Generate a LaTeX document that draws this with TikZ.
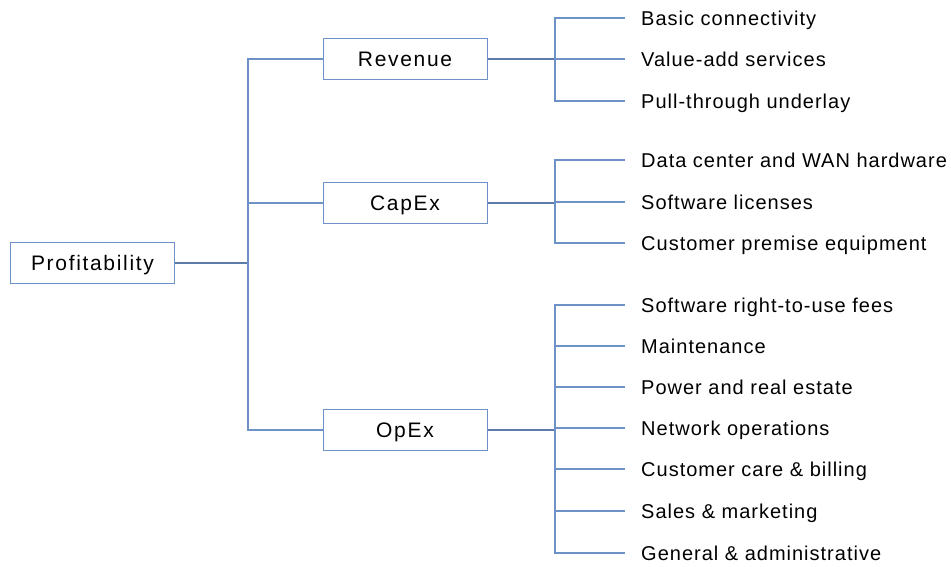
\documentclass[tikz,border=0pt]{standalone}
\usepackage{fontspec}
\setmainfont{Liberation Sans}[LetterSpace=5]
\newfontfamily\boxfont{Liberation Sans}[LetterSpace=8]
\usetikzlibrary{positioning}
\definecolor{boxblue}{RGB}{110,145,200}
\definecolor{linkblue}{RGB}{110,145,200}
\begin{document}
\begin{tikzpicture}[x=1pt,y=-1pt,
	box/.style={draw=boxblue, line width=1pt, minimum width=164pt, minimum height=41pt, inner sep=0pt, text height=15pt, text depth=0pt, font=\boxfont\fontsize{21}{25}\selectfont},
	leaf/.style={anchor=west, inner sep=0pt, text height=14.3pt, text depth=0pt, font=\fontsize{20}{24}\selectfont},
	link/.style={draw=linkblue, line width=1.1pt},
	trunk/.style={draw=linkblue!85!black, line width=1.7pt}]
	\useasboundingbox (0,0) rectangle (951,567);
	\def\forkx{555}
	\def\endx{625}
	\def\textx{641}
	
	\node[box] (profit) at (92.5,263) {Profitability};
	\coordinate (trunk) at (248,263);
	\node[box] (rev) at (405,59) {Revenue};
	\node[box] (capex) at (405,203) {CapEx};
	\node[box] (opex) at (405,430) {OpEx};
	
	\draw[trunk] (profit) -- (trunk);
	\draw[link] (trunk) |- (rev);
	\draw[link] (trunk) |- (capex);
	\draw[link] (trunk) |- (opex);
	
	% revenue items
	\coordinate (revfork) at (\forkx,59);
	\draw[trunk] (rev) -- (revfork);
	\foreach \y/\txt [count=\i] in {18/Basic connectivity, 59/Value-add services, 101/Pull-through underlay}{
		\coordinate (reve\i) at (\endx,\y);
		\node[leaf] (revl\i) at (\textx,\y) {\txt};
		\draw[link] (revfork) |- (reve\i);
	}
	
	% capex items
	\coordinate (capfork) at (\forkx,203);
	\draw[trunk] (capex) -- (capfork);
	\foreach \y/\txt [count=\i] in {160/Data center and WAN hardware, 202/Software licenses, 243/Customer premise equipment}{
		\coordinate (cape\i) at (\endx,\y);
		\node[leaf] (capl\i) at (\textx,\y) {\txt};
		\draw[link] (capfork) |- (cape\i);
	}
	
	% opex items
	\coordinate (opfork) at (\forkx,430);
	\draw[trunk] (opex) -- (opfork);
	\foreach \y/\txt [count=\i] in {305/Software right-to-use fees, 346/Maintenance, 387/Power and real estate, 428/Network operations, 469/Customer care \& billing, 511/Sales \& marketing, 553/General \& administrative}{
		\coordinate (ope\i) at (\endx,\y);
		\node[leaf] (opl\i) at (\textx,\y) {\txt};
		\draw[link] (opfork) |- (ope\i);
	}
\end{tikzpicture}
\end{document}
